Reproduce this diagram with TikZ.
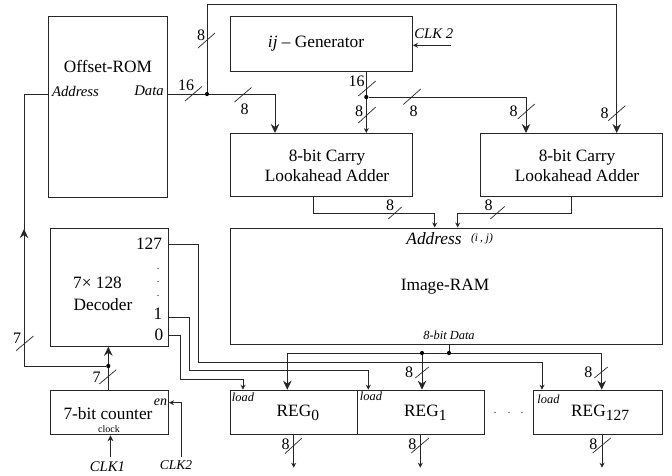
\documentclass[tikz,border=0pt]{standalone}
\usepackage{fontspec}
\setmainfont{Liberation Serif}
\usetikzlibrary{arrows.meta,calc}
\newcommand{\fs}[1]{\fontsize{#1}{#1}\selectfont}
\newcommand{\regname}[1]{REG\raisebox{-4.5pt}{\fs{15.5}#1}}
\tikzset{
  blk/.style={draw=black!85,line width=1pt,rectangle,inner sep=0pt,anchor=north west},
  wire/.style={draw=black!85,line width=1pt},
  bigtip/.style={-{Stealth[length=9pt,width=8.5pt]}},
  smalltip/.style={-{Stealth[length=5pt,width=5pt]}},
  slashmark/.style={draw=black!85,line width=0.7pt},
  junction/.style={circle,fill=black,inner sep=0pt,minimum size=4.2pt},
  lab/.style={inner sep=0pt,font=\fs{17.3}},
  dotlab/.style={inner sep=0pt,font=\fs{10}},
  bus/.style={inner sep=0pt,font=\fs{16}},
  ital/.style={inner sep=0pt,font=\fs{14.7}\itshape},
  tiny/.style={inner sep=0pt,font=\fs{12.4}\itshape},
}
\begin{document}
\begin{tikzpicture}[x=1pt,y=-1pt]
\useasboundingbox (0,0) rectangle (672,475);
% blocks
\node[blk,minimum width=119pt,minimum height=180.5pt] (rom) at (47.5,16) {};
\node[blk,minimum width=182.5pt,minimum height=55pt] (gen) at (229.5,16) {};
\node[blk,minimum width=182pt,minimum height=63pt] (adda) at (229.5,133) {};
\node[blk,minimum width=182pt,minimum height=63pt] (addb) at (480,133) {};
\node[blk,minimum width=432.5pt,minimum height=116.5pt] (ram) at (229.5,227.5) {};
\node[blk,minimum width=118pt,minimum height=118.2pt] (dec) at (49.5,227.5) {};
\node[blk,minimum width=118.5pt,minimum height=44.6pt] (cnt) at (49.5,389.7) {};
\node[blk,minimum width=127.5pt,minimum height=44.6pt] (rega) at (229.5,389.7) {};
\node[blk,minimum width=127.3pt,minimum height=44.6pt] (regb) at (357,389.7) {};
\node[blk,minimum width=129.3pt,minimum height=44.6pt] (regc) at (532.7,389.7) {};
% texts
\node[lab] (t1) at (108,66) {Offset-ROM};
\node[ital] (t2) at (75.5,91) {Address};
\node[ital] (t3) at (149,91) {Data};
\node[lab] (t4) at (316,44) {\textit{ij} – Generator};
\node[lab,align=center] (t5) at (327,165.5) {8-bit Carry\\[3.5pt]Lookahead Adder};
\node[lab,align=center] (t6) at (577,165.5) {8-bit Carry\\[3.5pt]Lookahead Adder};
\node[ital] (t7) at (433.7,34) {CLK 2};
\node[inner sep=0pt,font=\fs{17.3}\itshape] (t8) at (434,239) {Address};
\node[inner sep=0pt,font=\fs{11.5}\itshape] (t9) at (482,239) {(i\,, j)};
\node[lab] (t10) at (445,287) {Image-RAM};
\node[tiny] (t11) at (449,335) {8-bit Data};
\node[lab] (t12) at (97.5,283) {7× 128};
\node[lab] (t13) at (103,304.5) {Decoder};
\node[lab] (t14) at (149,244) {127};
\node[lab] (t15) at (158,314) {1};
\node[lab] (t16) at (159,335) {0};
\node[dotlab] (t17) at (158,269) {.};
\node[dotlab] (t18) at (158,282.5) {.};
\node[dotlab] (t19) at (158,296) {.};
\node[lab] (t20) at (108,413.5) {7-bit counter};
\node[inner sep=0pt,font=\fs{10}] (t21) at (109,429) {clock};
\node[inner sep=0pt,font=\fs{14}\itshape] (t22) at (160.5,402) {en};
\node[ital] (t23) at (107.5,467) {CLK1};
\node[inner sep=0pt,font=\fs{13.5}\itshape] (t24) at (176,465) {CLK2};
\node[tiny] (t25) at (243,397) {load};
\node[tiny] (t26) at (371,396) {load};
\node[tiny] (t27) at (548.5,399) {load};
\node[lab,anchor=west] (t28) at (276.5,413) {\regname{0}};
\node[lab,anchor=west] (t29) at (404,413) {\regname{1}};
\node[lab,anchor=west] (t30) at (571,413) {\regname{127}};
\node[dotlab] (t31) at (495,413) {.};
\node[dotlab] (t32) at (509,413) {.};
\node[dotlab] (t33) at (522,413) {.};
% junctions
\node[junction] (j1) at (207,94) {};
\node[junction] (j2) at (366.3,97) {};
\node[junction] (j3) at (449,353) {};
\node[junction] (j4) at (422,353) {};
\node[junction] (j5) at (108.3,366) {};
% free ends and bends
\coordinate (adlin) at (275,133);
\coordinate (adrtop) at (616.7,4.5);
\coordinate (addbin) at (526,133);
\coordinate (addbin2) at (616.7,133);
\coordinate (ramL) at (434.7,227.5);
\coordinate (ramR) at (457.7,227.5);
\coordinate (abus) at (0,213.5);
\coordinate (clkg) at (451,45.3);
\coordinate (clkc) at (110.5,456.7);
\coordinate (clke) at (181.7,456.7);
\coordinate (romadr) at (47.5,94);
% ROM and generator buses
\draw[wire] (rom.east |- j1) -- (j1);
\draw[wire,bigtip] (j1) -| (adlin);
\draw[wire,bigtip] (j1) |- (adrtop) -- (addbin2);
\draw[wire,smalltip] (gen.south -| j2) -- (j2) -- (j2 |- adda.north);
\draw[wire,bigtip] (j2) -| (addbin);
\draw[wire,smalltip] (clkg) -- (gen.east |- clkg);
% adder outputs
\draw[wire,smalltip] (313.5,196) |- (abus -| ramL) -- (ramL);
\draw[wire,smalltip] (571.7,196) |- (abus -| ramR) -- (ramR);
% counter and decoder
\draw[wire,bigtip] (cnt.north -| j5) -- (j5) -- (j5 |- dec.south);
\draw[wire,bigtip] (j5) -| (24,229);
\draw[wire] (24,235) |- (romadr);
\draw[wire,-{Stealth[length=6pt,width=6pt]}] (clkc) -- (clkc |- cnt.south);
\draw[wire,smalltip] (clke) |- (cnt.east |- 0,402.7);
% decoder outputs
\draw[wire,smalltip] (dec.east |- t14) ++(0,0.7) -| (198,362) -| (542,389.7);
\draw[wire,smalltip] (dec.east |- t15) ++(0,3.3) -| (189,370.7) -| (368.3,389.7);
\draw[wire,smalltip] (dec.east |- t16) -| (180,379.7) -| (243,389.7);
% data bus
\draw[wire] (ram.south -| j3) -- (j3);
\draw[wire,bigtip] (j4) -| (287.3,389.7);
\draw[wire] (j4) -- (j3);
\draw[wire,bigtip] (j3) -| (601.7,389.7);
\draw[wire,bigtip] (j4) -- (j4 |- regb.north);
% register outputs
\draw[wire,smalltip] (293.7,434.3) -- (293.7,467.7);
\draw[wire,smalltip] (420.3,434.3) -- (420.3,467.7);
\draw[wire,smalltip] (602,434.3) -- (602,467.7);
% bus-width marks
\draw[slashmark] (198,48) -- (215,33);
\node[bus] at (201,35) {8};
\draw[slashmark] (185,101) -- (202,86.5);
\node[bus] at (186,85) {16};
\draw[slashmark] (234.5,102) -- (251.5,87.5);
\node[bus] at (244.5,109) {8};
\draw[slashmark] (358.3,96) -- (375.7,81);
\node[bus] at (356.7,81.5) {16};
\draw[slashmark] (358.3,123) -- (375.7,107);
\node[bus] at (359,111.5) {8};
\draw[slashmark] (403.3,104.5) -- (420.7,89);
\node[bus] at (413.5,111.5) {8};
\draw[slashmark] (517.7,119) -- (534.7,104);
\node[bus] at (513.7,111.5) {8};
\draw[slashmark] (608.3,120.7) -- (625.3,105.7);
\node[bus] at (604.7,113) {8};
\draw[slashmark] (388.3,219) -- (401.7,207);
\node[bus] at (390,205.5) {8};
\draw[slashmark] (490.3,219) -- (504.7,206.5);
\node[bus] at (488.7,205) {8};
\draw[slashmark] (415.3,378) -- (428.7,367);
\node[bus] at (409,372.5) {8};
\draw[slashmark] (594.3,378) -- (607.7,367);
\node[bus] at (588.3,372) {8};
\draw[slashmark] (285,453.5) -- (302,438);
\node[bus] at (285.5,444) {8};
\draw[slashmark] (411.3,453) -- (429,438);
\node[bus] at (412.3,444) {8};
\draw[slashmark] (592.7,453) -- (610.7,438);
\node[bus] at (593.3,444) {8};
\draw[slashmark] (99.3,384) -- (116.3,369.7);
\node[bus] at (96.7,377.7) {7};
\draw[slashmark] (16,350.7) -- (33.5,336);
\node[bus] at (17,338.7) {7};
\end{tikzpicture}
\end{document}
